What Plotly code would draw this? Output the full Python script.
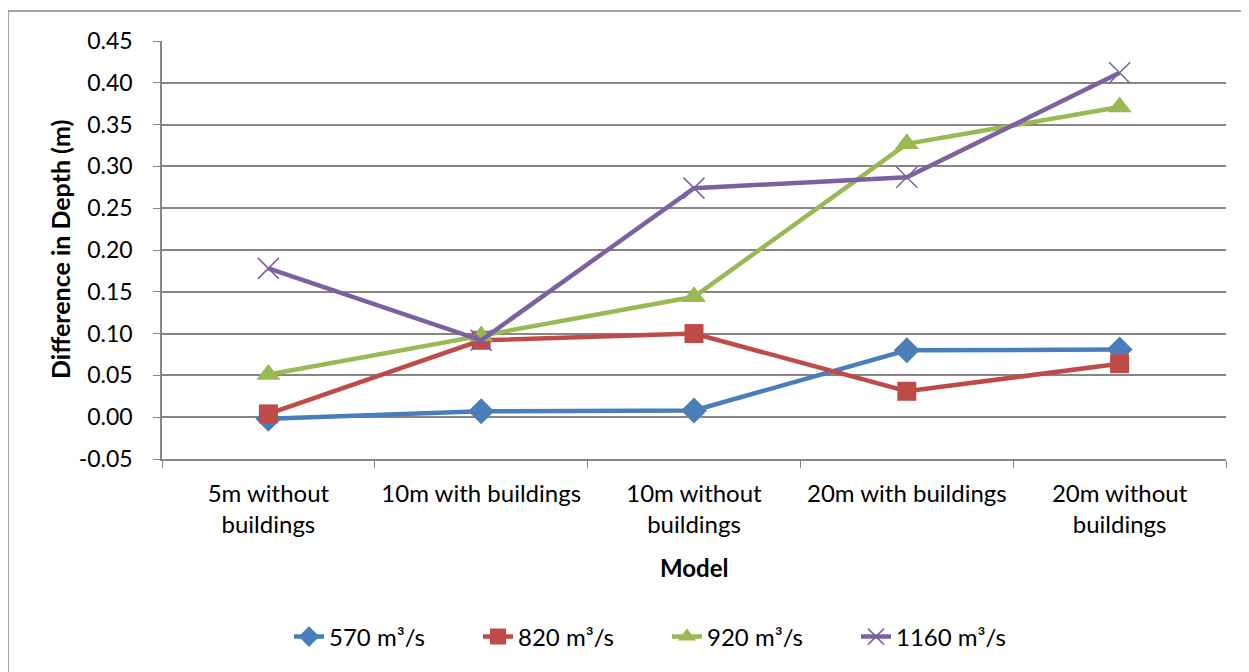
import plotly.graph_objects as go

categories = ["5m without<br>buildings", "10m with buildings", "10m without<br>buildings",
              "20m with buildings", "20m without<br>buildings"]
series_names = ["570 m³/s", "820 m³/s", "920 m³/s", "1160 m³/s"]
v570 = [-0.002, 0.007, 0.008, 0.080, 0.081]
v820 = [0.004, 0.092, 0.100, 0.031, 0.064]
v920 = [0.051, 0.097, 0.144, 0.327, 0.371]
v1160 = [0.178, 0.092, 0.274, 0.287, 0.412]
y_ticks = [-0.05, 0.00, 0.05, 0.10, 0.15, 0.20, 0.25, 0.30, 0.35, 0.40, 0.45]
y_ticktext = [f"{v:.2f}" for v in y_ticks]

colors = ["#4A7EBB", "#BE4B48", "#98B954", "#7D60A0"]
symbols = ["diamond", "square", "triangle-up", "x-thin"]
sizes = [20, 19, 21, 21]
FONT = "Lato"

# page has an 8px body margin; figure is placed at (8, 8)
OFF = 8
W, H = 1241, 664
PL, PR, PT, PB = 162, 1226, 41, 459   # plot area in page pixels
pw, ph = PR - PL, PB - PT

def px(x):
    return (x - PL) / pw

def py(y):
    return (PB - y) / ph

fig = go.Figure()
for name, vals, c, s, sz in zip(series_names, [v570, v820, v920, v1160], colors, symbols, sizes):
    marker = dict(symbol=s, size=sz, color=c)
    if s == "x-thin":
        marker["line"] = dict(color=c, width=1.5)
    fig.add_trace(go.Scatter(x=categories, y=vals, name=name, mode="lines+markers",
                             line=dict(color=c, width=4.5), marker=marker))

fig.update_layout(
    width=W, height=H,
    margin=dict(l=PL - OFF, r=OFF + W - PR, t=PT - OFF, b=OFF + H - PB),
    paper_bgcolor="white", plot_bgcolor="white",
    font=dict(family=FONT, size=24, color="black"),
    showlegend=True,
    legend=dict(orientation="h", x=px(289), y=py(637), xanchor="left", yanchor="middle",
                font=dict(family=FONT, size=24), entrywidth=144, entrywidthmode="pixels",
                tracegroupgap=0),
    xaxis=dict(type="category", range=[-0.5, 4.5], showgrid=False, showline=True,
               linecolor="#868686", linewidth=1.5, ticks="outside", tickson="boundaries",
               ticklen=7, tickcolor="#868686", ticklabelstandoff=12,
               tickfont=dict(family=FONT, size=24)),
    yaxis=dict(range=[-0.05, 0.45], tickvals=y_ticks, ticktext=y_ticktext,
               showgrid=True, gridcolor="#868686", gridwidth=1.5, zeroline=False,
               showline=True, linecolor="#868686", linewidth=1.5, ticks="outside",
               ticklen=7, tickcolor="#868686", ticklabelstandoff=16,
               tickfont=dict(family=FONT, size=23)),
    annotations=[
        dict(text="<b>Model</b>", xref="paper", yref="paper", x=px(694),
             y=py(567), showarrow=False, xanchor="center", yanchor="middle",
             font=dict(family=FONT, size=24)),
        dict(text="<b>Difference in Depth (m)</b>", xref="paper", yref="paper",
             x=px(60), y=py(250), textangle=-90, showarrow=False,
             xanchor="center", yanchor="middle", font=dict(family=FONT, size=25)),
    ],
    shapes=[dict(type="rect", xref="paper", yref="paper",
                 x0=px(8), x1=px(1246), y0=py(680), y1=py(11),
                 line=dict(color="#868686", width=1.5), fillcolor="rgba(0,0,0,0)", layer="below")],
)

fig.write_html("out.html")
